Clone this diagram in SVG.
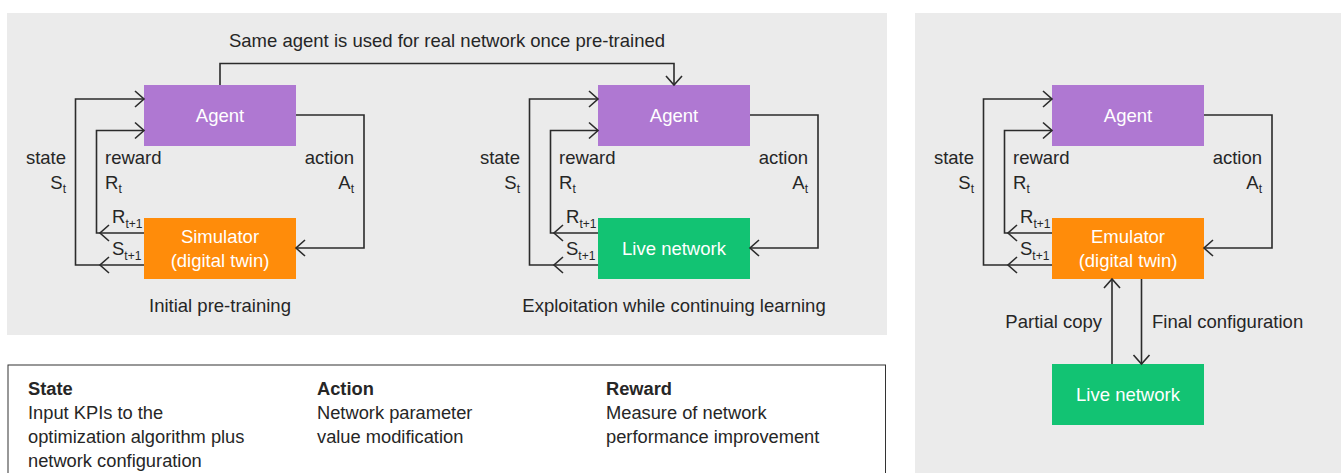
<svg xmlns="http://www.w3.org/2000/svg" xmlns:xlink="http://www.w3.org/1999/xlink" width="1341" height="473" viewBox="0 0 1341 473">
<style>
text{font-family:"Liberation Sans","Noto Sans",sans-serif;font-size:18.5px;fill:#262626}
.w{fill:#ffffff;text-anchor:middle}
.c{text-anchor:middle}
.e{text-anchor:end}
.b{font-weight:bold}
.s{font-size:18.3px}
.sub{font-size:12px}
.ln{fill:none;stroke:#2b2b2b;stroke-width:1.6}
.agent{fill:#af78d2}
.sim{fill:#ff8c0a}
.live{fill:#12c373}
.bg{fill:#ebebeb}
</style>
<defs>
<path id="chev" d="M-9,-8 L0,0 L-9,8" fill="none" stroke="#2b2b2b" stroke-width="1.6"/>
</defs>
<rect width="1341" height="473" fill="#ffffff"/>
<rect class="bg" x="7" y="13" width="880" height="322"/>
<rect class="bg" x="915" y="13" width="426" height="460"/>
<g id="legend">
<rect x="8" y="365" width="877.5" height="120" fill="none" stroke="#333" stroke-width="1"/>
<text class="s b" x="28" y="395">State</text>
<text class="s" x="28" y="419">Input KPIs to the</text>
<text class="s" x="28" y="443">optimization algorithm plus</text>
<text class="s" x="28" y="467">network configuration</text>
<text class="s b" x="317" y="395">Action</text>
<text class="s" x="317" y="419">Network parameter</text>
<text class="s" x="317" y="443">value modification</text>
<text class="s b" x="606" y="395">Reward</text>
<text class="s" x="606" y="419">Measure of network</text>
<text class="s" x="606" y="443">performance improvement</text>
</g>
<g id="agent1"><rect class="agent" x="144" y="85" width="152" height="61"/><text class="w" x="220" y="122">Agent</text></g>
<g id="simulator"><rect class="sim" x="144" y="218" width="152" height="61"/><text class="w" x="220" y="243">Simulator</text><text class="w" x="220" y="267">(digital twin)</text></g>
<g id="agent2"><rect class="agent" x="598" y="85" width="152" height="61"/><text class="w" x="674" y="122">Agent</text></g>
<g id="live1"><rect class="live" x="598" y="218" width="152" height="61"/><text class="w" x="674" y="255">Live network</text></g>
<g id="agent3"><rect class="agent" x="1052" y="85" width="152" height="61"/><text class="w" x="1128" y="122">Agent</text></g>
<g id="emulator"><rect class="sim" x="1052" y="218" width="152" height="61"/><text class="w" x="1128" y="243">Emulator</text><text class="w" x="1128" y="267">(digital twin)</text></g>
<g id="live2"><rect class="live" x="1052" y="364" width="152" height="61"/><text class="w" x="1128" y="401">Live network</text></g>
<g id="connectors">
<path class="ln" d="M220,85 V63.5 H674 V85"/>
<use xlink:href="#chev" transform="translate(674,85) rotate(90)"/>
<g id="loop1">
<path class="ln" d="M144,265 H75.5 V99 H144"/>
<path class="ln" d="M144,233 H96.5 V130.5 H144"/>
<path class="ln" d="M296,115 H364 V248 H296"/>
<use xlink:href="#chev" transform="translate(144,99)"/>
<use xlink:href="#chev" transform="translate(144,130.5)"/>
<use xlink:href="#chev" transform="translate(100,265) rotate(180)"/>
<use xlink:href="#chev" transform="translate(100,233) rotate(180)"/>
<use xlink:href="#chev" transform="translate(296,248) rotate(180)"/>
</g>
<g id="loop2" transform="translate(454,0)">
<path class="ln" d="M144,265 H75.5 V99 H144"/>
<path class="ln" d="M144,233 H96.5 V130.5 H144"/>
<path class="ln" d="M296,115 H364 V248 H296"/>
<use xlink:href="#chev" transform="translate(144,99)"/>
<use xlink:href="#chev" transform="translate(144,130.5)"/>
<use xlink:href="#chev" transform="translate(100,265) rotate(180)"/>
<use xlink:href="#chev" transform="translate(100,233) rotate(180)"/>
<use xlink:href="#chev" transform="translate(296,248) rotate(180)"/>
</g>
<g id="loop3" transform="translate(908,0)">
<path class="ln" d="M144,265 H75.5 V99 H144"/>
<path class="ln" d="M144,233 H96.5 V130.5 H144"/>
<path class="ln" d="M296,115 H364 V248 H296"/>
<use xlink:href="#chev" transform="translate(144,99)"/>
<use xlink:href="#chev" transform="translate(144,130.5)"/>
<use xlink:href="#chev" transform="translate(100,265) rotate(180)"/>
<use xlink:href="#chev" transform="translate(100,233) rotate(180)"/>
<use xlink:href="#chev" transform="translate(296,248) rotate(180)"/>
</g>
<path class="ln" d="M1112,364 V279"/>
<use xlink:href="#chev" transform="translate(1112,279) rotate(-90)"/>
<path class="ln" d="M1141.5,279 V364"/>
<use xlink:href="#chev" transform="translate(1141.5,364) rotate(90)"/>
</g>
<g id="labels">
<text class="c" x="447" y="47">Same agent is used for real network once pre-trained</text>
<text class="c" x="220" y="312">Initial pre-training</text>
<text class="c" x="674" y="312">Exploitation while continuing learning</text>
<text class="e" x="1102" y="328">Partial copy</text>
<text x="1152" y="328">Final configuration</text>
</g>
<g id="loop1-labels">
<text class="e" x="66" y="164">state</text>
<text class="e" x="66" y="189">S<tspan class="sub" dy="4">t</tspan></text>
<text x="105" y="164">reward</text>
<text x="105" y="189">R<tspan class="sub" dy="4">t</tspan></text>
<text class="e" x="354" y="164">action</text>
<text class="e" x="354" y="189">A<tspan class="sub" dy="4">t</tspan></text>
<text x="112" y="223">R<tspan class="sub" dy="5">t+1</tspan></text>
<text x="112" y="255">S<tspan class="sub" dy="5">t+1</tspan></text>
</g>
<g id="loop2-labels" transform="translate(454,0)">
<text class="e" x="66" y="164">state</text>
<text class="e" x="66" y="189">S<tspan class="sub" dy="4">t</tspan></text>
<text x="105" y="164">reward</text>
<text x="105" y="189">R<tspan class="sub" dy="4">t</tspan></text>
<text class="e" x="354" y="164">action</text>
<text class="e" x="354" y="189">A<tspan class="sub" dy="4">t</tspan></text>
<text x="112" y="223">R<tspan class="sub" dy="5">t+1</tspan></text>
<text x="112" y="255">S<tspan class="sub" dy="5">t+1</tspan></text>
</g>
<g id="loop3-labels" transform="translate(908,0)">
<text class="e" x="66" y="164">state</text>
<text class="e" x="66" y="189">S<tspan class="sub" dy="4">t</tspan></text>
<text x="105" y="164">reward</text>
<text x="105" y="189">R<tspan class="sub" dy="4">t</tspan></text>
<text class="e" x="354" y="164">action</text>
<text class="e" x="354" y="189">A<tspan class="sub" dy="4">t</tspan></text>
<text x="112" y="223">R<tspan class="sub" dy="5">t+1</tspan></text>
<text x="112" y="255">S<tspan class="sub" dy="5">t+1</tspan></text>
</g>
</svg>
